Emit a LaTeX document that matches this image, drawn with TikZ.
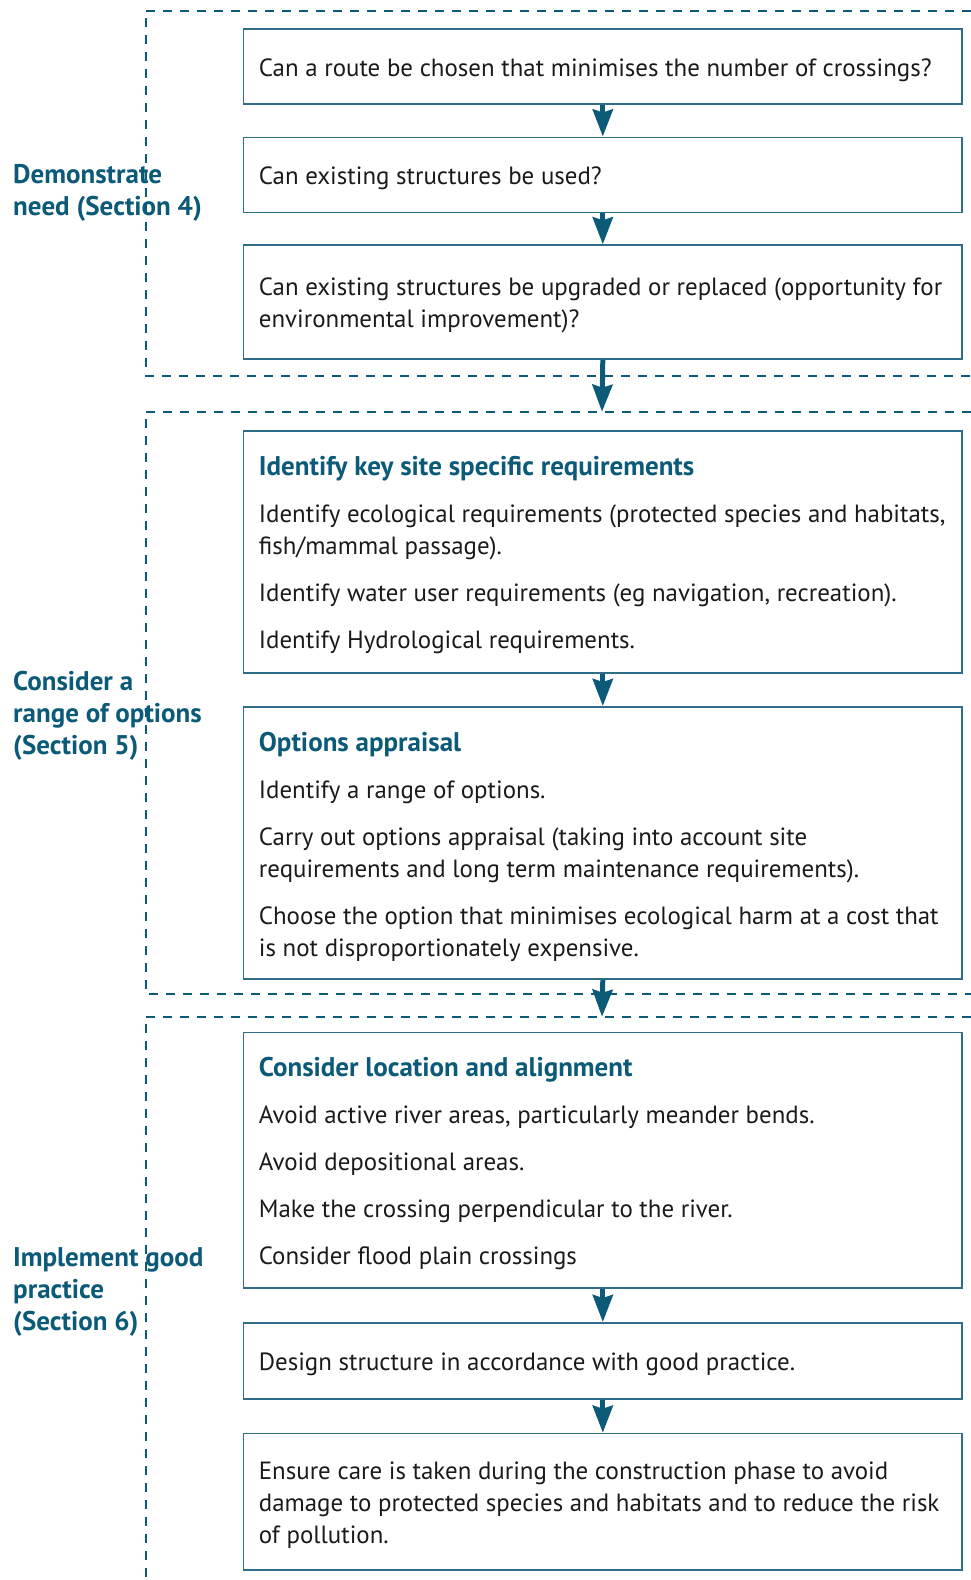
\documentclass[tikz,border=0pt]{standalone}
\usepackage{fontspec}
\setmainfont{PT Sans}
\usetikzlibrary{arrows.meta}
\definecolor{teal1}{HTML}{0B5A78}
\definecolor{boxc}{HTML}{2F6D88}
\definecolor{body}{HTML}{1A1A1A}
\tikzset{
 frame/.style={draw=teal1,line width=2pt,dash pattern=on 9pt off 8pt},
 stepbox/.style={draw=boxc,line width=1.6pt,minimum width=718.6pt,inner sep=0pt,anchor=north west},
 btext/.style={anchor=west,align=left,inner sep=0pt,text=body,font=\fontsize{24.9}{32}\selectfont},
 lab/.style={anchor=west,align=left,inner sep=0pt,text=teal1,font=\bfseries\fontsize{27}{32}\selectfont},
 flow/.style={draw=teal1,line width=5pt,-{Stealth[length=27pt,width=20pt,inset=3pt]}},
}
\newcommand{\hd}[1]{{\color{teal1}\bfseries\fontsize{27}{32}\selectfont #1}}
\begin{document}
\begin{tikzpicture}[x=1pt,y=-1pt]
\useasboundingbox (0,0) rectangle (971,1580);
% boxes
\node[stepbox,minimum height=75.3pt] (b1) at (242.7,28) {};
\node[stepbox,minimum height=75.2pt] (b2) at (242.7,136.5) {};
\node[stepbox,minimum height=114pt] (b3) at (242.7,244.3) {};
\node[stepbox,minimum height=242pt] (b4) at (242.7,430) {};
\node[stepbox,minimum height=272.3pt] (b5) at (242.7,706) {};
\node[stepbox,minimum height=255.3pt] (b6) at (242.7,1031.7) {};
\node[stepbox,minimum height=76pt] (b7) at (242.7,1322) {};
\node[stepbox,minimum height=136.3pt] (b8) at (242.7,1432.7) {};
% texts
\node[btext] (t1) at ([xshift=16pt,yshift=-3.5pt]b1.west) {Can a route be chosen that minimises the number of crossings?};
\node[btext] (t2) at ([xshift=16pt,yshift=-3.5pt]b2.west) {Can existing structures be used?};
\node[btext] (t3) at ([xshift=16pt,yshift=-3.5pt]b3.west) {Can existing structures be upgraded or replaced (opportunity for\\ environmental improvement)?};
\node[btext] (t4) at ([xshift=16pt,yshift=-3.5pt]b4.west) {\hd{Identify key site specific requirements}\\[15pt]
Identify ecological requirements (protected species and habitats,\\ fish/mammal passage).\\[15pt]
Identify water user requirements (eg navigation, recreation).\\[15pt]
Identify Hydrological requirements.};
\node[btext] (t5) at ([xshift=16pt,yshift=-3.5pt]b5.west) {\hd{Options appraisal}\\[15pt]
Identify a range of options.\\[15pt]
Carry out options appraisal (taking into account site\\ requirements and long term maintenance requirements).\\[15pt]
Choose the option that minimises ecological harm at a cost that\\ is not disproportionately expensive.};
\node[btext] (t6) at ([xshift=16pt,yshift=-3.5pt]b6.west) {\hd{Consider location and alignment}\\[15pt]
Avoid active river areas, particularly meander bends.\\[15pt]
Avoid depositional areas.\\[15pt]
Make the crossing perpendicular to the river.\\[15pt]
Consider flood plain crossings};
\node[btext] (t7) at ([xshift=16pt,yshift=-3.5pt]b7.west) {Design structure in accordance with good practice.};
\node[btext] (t8) at ([xshift=16pt,yshift=-3.5pt]b8.west) {Ensure care is taken during the construction phase to avoid\\ damage to protected species and habitats and to reduce the risk\\ of pollution.};
% labels
\node[lab] (l1) at (13,193) {Demonstrate\\ need (Section 4)};
\node[lab] (l2) at (13,716) {Consider a\\ range of options\\ (Section 5)};
\node[lab] (l3) at (13,1292) {Implement good\\ practice\\ (Section 6)};
% frames
\draw[frame] (971,10.7) -- (145.7,10.7) -- (145.7,375.7) -- (971,375.7);
\draw[frame] (971,411.7) -- (145.7,411.7) -- (145.7,994.3) -- (971,994.3);
\draw[frame] (971,1016.7) -- (145.7,1016.7) -- (145.7,1580);
\coordinate (s2) at (602,411.7);
\coordinate (s3) at (602,1016.7);
% arrows
\draw[flow] (b1.south) -- (b2.north);
\draw[flow] (b2.south) -- (b3.north);
\draw[flow] (b3.south) -- (s2);
\draw[flow] (b4.south) -- (b5.north);
\draw[flow] (b5.south) -- (s3);
\draw[flow] (b6.south) -- (b7.north);
\draw[flow] (b7.south) -- (b8.north);
\end{tikzpicture}
\end{document}
